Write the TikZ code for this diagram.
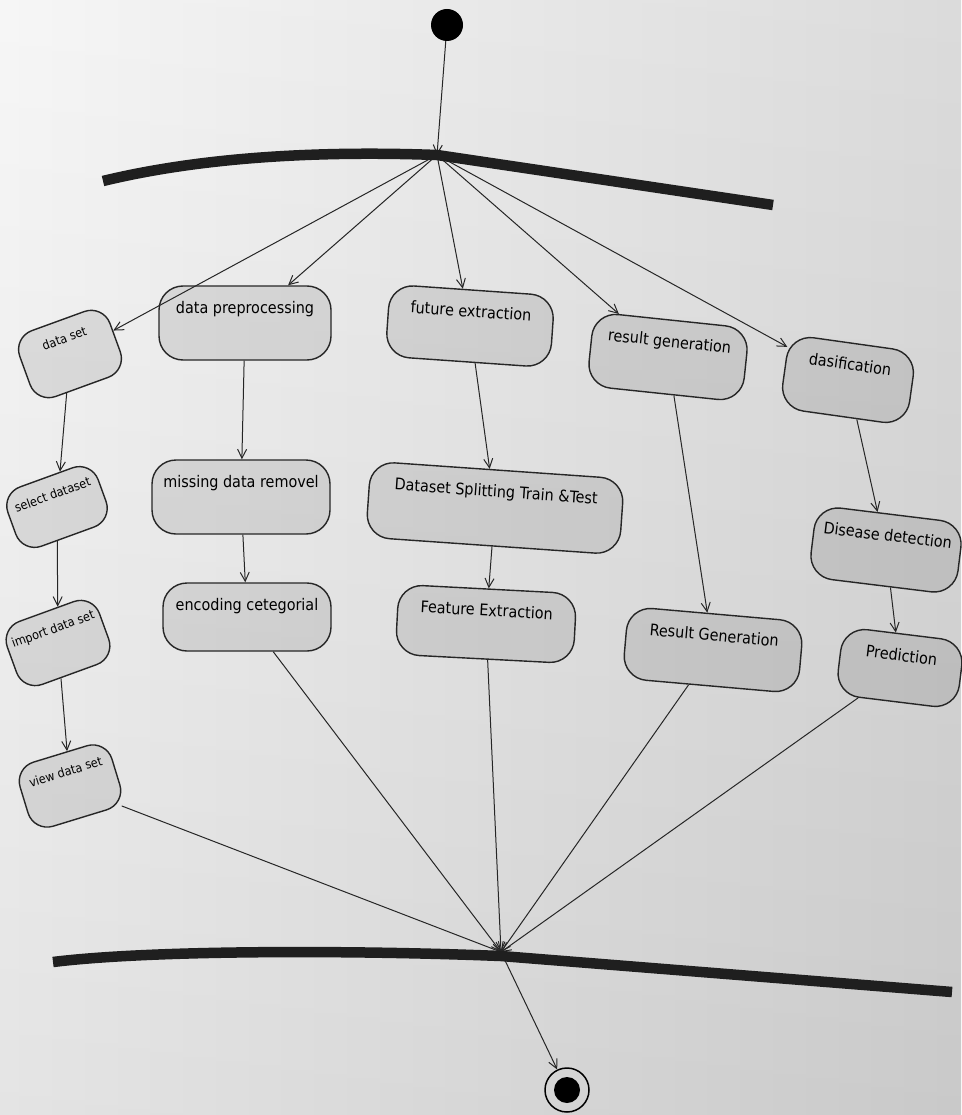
\documentclass[tikz,border=0pt]{standalone}
\usepackage{fontspec}
\setmainfont{DejaVu Sans Condensed}
\usetikzlibrary{arrows.meta}
\begin{document}
\begin{tikzpicture}[x=1pt,y=1pt,
  act/.style={draw=black!85, line width=1.4pt, fill=black, fill opacity=0.09,
    text opacity=1, rectangle, rounded corners=24pt, inner xsep=0pt, inner ysep=0pt,
    text height=27pt, font=\fontsize{16}{18}\selectfont},
  smallact/.style={act, rounded corners=20pt, text height=23pt,
    font=\fontsize{12.5}{14}\selectfont},
  flow/.style={line width=1pt, draw=black!85,
    -{Straight Barb[length=9pt,width=9pt,line width=1pt]}},
  bar/.style={line width=10.5pt, draw=black!88, line cap=butt}]

% page
\shade[left color=gray!7, right color=gray!30] (0,0) rectangle (961,-1115);
\shade[top color=white, bottom color=black, fill opacity=0.07] (0,0) rectangle (961,-1115);
\useasboundingbox (0,0) rectangle (961,-1115);

% start, fork and join points
\node[circle, fill=black, minimum size=32pt, inner sep=0pt] (start) at (447,-25) {};
\coordinate (fork) at (437,-155);
\coordinate (join) at (501,-952);
\node[circle, draw=black, line width=1.5pt, minimum size=44pt, inner sep=0pt] (end) at (567,-1090) {};
\fill (end.center) circle (13pt);

% left lane
\node[smallact, minimum width=96pt, text depth=47pt, rotate=20] (ds) at (70,-354) {data set};
\node[smallact, minimum width=96pt, text depth=40pt, rotate=20] (sel) at (57,-507) {select dataset};
\node[smallact, minimum width=98pt, text depth=44pt, rotate=20] (imp) at (58,-643) {import data set};
\node[smallact, minimum width=96pt, text depth=44pt, rotate=17] (view) at (70,-786) {view data set};

% preprocessing lane
\node[act, minimum width=172pt, text depth=47pt] (dp) at (245,-323) {data preprocessing};
\node[act, minimum width=178pt, text depth=47pt] (mdr) at (241,-497) {missing data removel};
\node[act, minimum width=168pt, text depth=41pt] (enc) at (247,-617) {encoding cetegorial};

% extraction lane
\node[act, minimum width=165pt, text depth=45pt, rotate=-4] (fe) at (470,-326) {future extraction};
\node[act, minimum width=254pt, text depth=49pt, rotate=-4] (dst) at (495,-508) {Dataset Splitting Train \&Test};
\node[act, minimum width=178pt, text depth=43pt, rotate=-3] (fx) at (486,-624) {Feature Extraction};

% result lane
\node[act, minimum width=156pt, text depth=47pt, rotate=-6] (rg) at (668,-357) {result generation};
\node[act, minimum width=176pt, text depth=45pt, rotate=-5] (RG) at (713,-650) {Result Generation};

% classification lane
\node[act, minimum width=128pt, text depth=47pt, rotate=-8] (cl) at (848,-380) {dasification};
\node[act, minimum width=148pt, text depth=45pt, rotate=-7] (dd) at (886,-550) {Disease detection};
\node[act, minimum width=122pt, text depth=41pt, rotate=-7] (pr) at (900,-668) {Prediction};

% connectors
\draw[flow] (start) -- (fork);
\foreach \n in {ds,dp,fe,rg,cl} \draw[flow] (fork) -- (\n);
\draw[flow] (ds) -- (sel);
\draw[flow] (sel) -- (imp);
\draw[flow] (imp) -- (view);
\draw[flow] (dp) -- (mdr);
\draw[flow] (mdr) -- (enc);
\draw[flow] (fe) -- (dst);
\draw[flow] (dst) -- (fx);
\draw[flow] (rg) -- (RG);
\draw[flow] (cl) -- (dd);
\draw[flow] (dd) -- (pr);
\foreach \n in {view,enc,fx,RG,pr} \draw[flow] (\n) -- (join);
\draw[flow] (join) -- (end);

% synchronisation bars
\draw[bar] (103,-181) .. controls (190,-160) and (300,-150) .. (437,-155)
  -- (773,-205);
\draw[bar] (53,-962) .. controls (150,-950) and (350,-950) .. (501,-956)
  -- (952,-992);
\end{tikzpicture}
\end{document}
